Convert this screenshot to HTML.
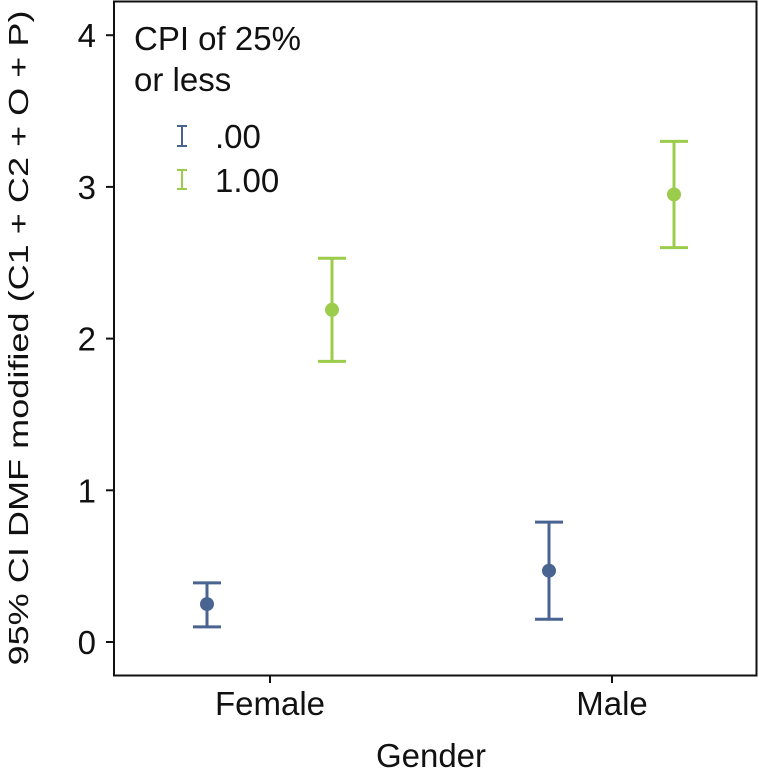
<!DOCTYPE html>
<html><head><meta charset="utf-8"><style>
body{margin:0;background:#fff;}
svg text{font-family:"Liberation Sans",Arial,sans-serif;fill:#111;font-size:33px;}
svg text.ytitle{font-size:28px;}
</style></head><body>
<svg id="chart" width="759" height="770" viewBox="0 0 759 770">
<rect x="114" y="1.5" width="642.5" height="674" fill="#fff" stroke="#111" stroke-width="2"/>
<g id="yaxis"></g>
<g id="xaxis"></g>
<g id="marks"></g>
<text class="ytitle" x="28" y="338" text-anchor="middle" textLength="655" lengthAdjust="spacingAndGlyphs" transform="rotate(-90 28 338)">95% CI DMF modified (C1 + C2 + O + P)</text>
<text x="431" y="767" text-anchor="middle">Gender</text>
<g>
<text x="134" y="50">CPI of 25%</text>
<text x="134" y="91">or less</text>
<g>
<path d="M177 126h10M182 126v20M177 146h10" stroke="#4a6491" stroke-width="2" fill="none"/>
<text x="215" y="148">.00</text></g>
<g>
<path d="M177 170h10M182 170v19M177 189h10" stroke="#9ccc4c" stroke-width="2" fill="none"/>
<text x="215" y="192">1.00</text></g>
</g>
</svg>
<script>
const categories=["Female","Male"];
const seriesNames=[".00","1.00"];
const seriesColors=["#4a6491","#9ccc4c"];
const means=[[0.25,0.47],[2.19,2.95]];
const lowers=[[0.10,0.15],[1.85,2.60]];
const uppers=[[0.39,0.79],[2.53,3.30]];
const yTicks=[0,1,2,3,4];
const NS="http://www.w3.org/2000/svg";
function y(v){return 642-v*151.7;}
function x(i){return 270+i*342;}
const offsets=[-63,62];
function mk(tag,attrs,parent){const e=document.createElementNS(NS,tag);for(const k in attrs)e.setAttribute(k,attrs[k]);parent.appendChild(e);return e;}
const ya=document.getElementById('yaxis');
yTicks.forEach(t=>{
 const l=mk('line',{x1:106,x2:114,y1:y(t),y2:y(t),stroke:'#111','stroke-width':2},ya);
 
 
 const tx=mk('text',{x:96,y:y(t)+12,'text-anchor':'end'},ya);tx.textContent=t;
 
 
});
const xa=document.getElementById('xaxis');
categories.forEach((c,i)=>{
 const l=mk('line',{x1:x(i),x2:x(i),y1:675,y2:683,stroke:'#111','stroke-width':2},xa);
 
 
 const tx=mk('text',{x:x(i),y:715,'text-anchor':'middle'},xa);tx.textContent=c;
 
 
});
const mg=document.getElementById('marks');
seriesNames.forEach((s,si)=>{
 categories.forEach((c,ci)=>{
  const cx=x(ci)+offsets[si],col=seriesColors[si];
  const g=mk('g',{},mg);
  
  
  mk('path',{d:`M${cx-14} ${y(uppers[si][ci])}h28M${cx} ${y(uppers[si][ci])}V${y(lowers[si][ci])}M${cx-14} ${y(lowers[si][ci])}h28`,stroke:col,'stroke-width':3,fill:'none'},g);
  const p=mk('circle',{cx:cx,cy:y(means[si][ci]),r:7,fill:col},g);
  
  
 });
});
</script>
</body></html>
